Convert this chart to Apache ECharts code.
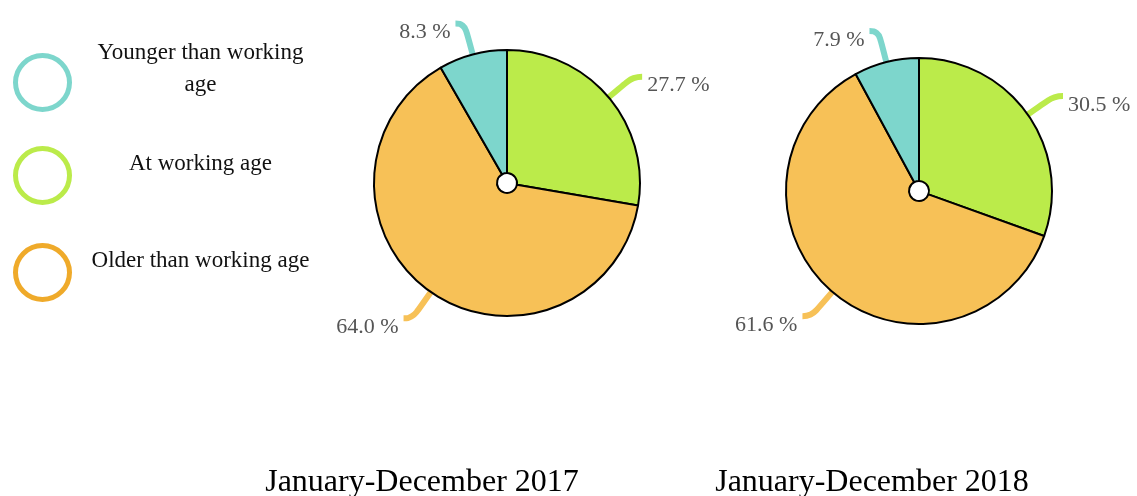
<!DOCTYPE html>
<html>
<head>
<meta charset="utf-8">
<script src="https://cdn.jsdelivr.net/npm/echarts@6/dist/echarts.min.js"></script>
<style>
html, body { margin: 0; padding: 0; background: #fff; }
#chart { width: 1137px; height: 496px; }
</style>
</head>
<body>
<div id="chart"></div>
<script>
// slice order matches the drawing: clockwise from the top
const groups = ['At working age', 'Older than working age', 'Younger than working age'];
const values2017 = [27.7, 64.0, 8.3];
const values2018 = [30.5, 61.6, 7.9];
const periods = ['January-December 2017', 'January-December 2018'];
const legendOrder = ['Younger than working age', 'At working age', 'Older than working age'];

const sliceColors = {
    'Younger than working age': '#7dd6cc',
    'At working age': '#bbeb4a',
    'Older than working age': '#f7c157'
};
const legendColors = {
    'Younger than working age': '#7dd6cc',
    'At working age': '#bbeb4a',
    'Older than working age': '#efaa2a'
};
const legendText = {
    'Younger than working age': 'Younger than working\nage',
    'At working age': 'At working age',
    'Older than working age': 'Older than working age'
};

const serif = "'Liberation Serif', 'DejaVu Serif', serif";

function makePie(values, center){
    return {
        type: 'pie',
        center: center,
        radius: [10, 133],
        startAngle: 90,
        clockwise: true,
        silent: true,
        data: groups.map((g, i) => ({
            name: g,
            value: values[i],
            itemStyle: { color: sliceColors[g] }
        })),
        itemStyle: { borderColor: '#000', borderWidth: 2 },
        label: {
            show: true,
            position: 'outside',
            overflow: 'none',
            // blank first line drops the value a bit below the line end
            formatter: p => '{s| }\n{v|' + p.value.toFixed(1) + ' %}',
            rich: {
                s: { fontSize: 2, lineHeight: 18 },
                v: { fontFamily: serif, fontSize: 22, color: '#555' }
            }
        },
        labelLine: {
            show: true,
            length: 32,
            length2: 9,
            smooth: 0.5,
            lineStyle: { width: 6, cap: 'butt' }
        },
        emphasis: { disabled: true }
    };
}

// spacer line under the text lifts it a little above the ring's centre
function makeLegend(name, top, lift){
    return {
        data: [name],
        orient: 'vertical',
        left: 13,
        top: top,
        padding: 0,
        icon: 'circle',
        itemWidth: 54,
        itemHeight: 54,
        selectedMode: false,
        itemStyle: { color: '#fff', borderColor: legendColors[name], borderWidth: 5 },
        formatter: n => legendText[n].split('\n').map(s => '{t|' + s + '}').join('\n') + '\n{s| }',
        textStyle: {
            rich: {
                t: {
                    width: 252,
                    align: 'center',
                    fontFamily: serif,
                    fontSize: 23,
                    lineHeight: 32,
                    color: '#111'
                },
                s: { fontSize: 2, lineHeight: lift }
            }
        }
    };
}

let chart = echarts.init(document.getElementById('chart'));
chart.setOption({
    animation: false,
    backgroundColor: '#fff',
    title: [
        { text: periods[0], left: 417, top: 462, textAlign: 'center',
          textStyle: { fontFamily: serif, fontSize: 32, fontWeight: 'normal', color: '#000' } },
        { text: periods[1], left: 867, top: 462, textAlign: 'center',
          textStyle: { fontFamily: serif, fontSize: 32, fontWeight: 'normal', color: '#000' } }
    ],
    legend: [
        makeLegend(legendOrder[0], 41, 28),
        makeLegend(legendOrder[1], 146, 24),
        makeLegend(legendOrder[2], 243, 24)
    ],
    series: [
        makePie(values2017, [507, 183]),
        makePie(values2018, [919, 191])
    ]
});
</script>
</body>
</html>
